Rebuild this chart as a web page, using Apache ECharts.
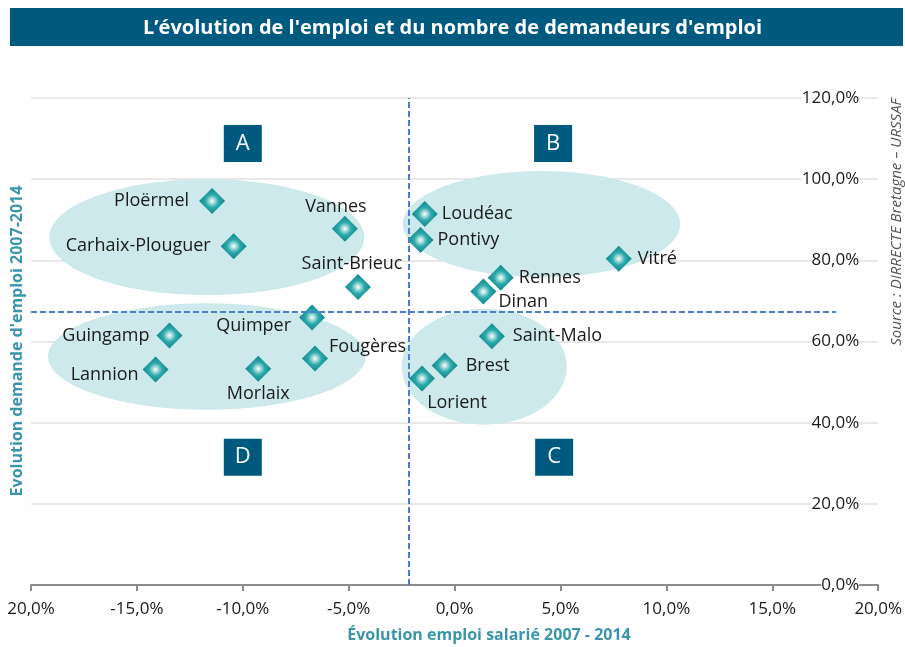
<!DOCTYPE html>
<html><head><meta charset="utf-8">
<script src="https://cdn.jsdelivr.net/npm/echarts@6/dist/echarts.min.js"></script>
<style>html,body{margin:0;padding:0;background:#fff}#c{width:905px;height:647px}</style>
</head><body><div id="c"></div>
<script>
// ---- data ----
const cities = ['Ploërmel','Vannes','Carhaix-Plouguer','Saint-Brieuc','Quimper','Guingamp','Fougères','Lannion','Morlaix','Loudéac','Pontivy','Rennes','Dinan','Vitré','Saint-Malo','Brest','Lorient'];
const emploi = [-11.45,-5.18,-10.43,-4.56,-6.73,-13.46,-6.59,-14.12,-9.27,-1.41,-1.61,2.18,1.36,7.75,1.76,-0.47,-1.54];
const demande = [94.6,87.8,83.5,73.4,65.9,61.5,55.8,53.1,53.3,91.4,85.0,75.7,72.3,80.4,61.3,54.1,50.9];
const xTicks = [-20,-15,-10,-5,0,5,10,15,20];
const yTicks = [0,20,40,60,80,100,120];
const medianEmploi = -2.15;
const medianDemande = 67.4;
// groups (ellipses): centre x, centre y, radius x, radius y (data units)
const groupCx = [-11.7, 4.1, -11.7, 1.4];
const groupCy = [85.7, 88.9, 56.3, 53.8];
const groupRx = [7.44, 6.55, 7.5, 3.9];
const groupRy = [14.3, 13.1, 13.1, 14.3];
// quadrant letters
const quadNames = ['A','B','C','D'];
const quadX = [-10.0, 4.65, 4.7, -10.0];
const quadY = [108.8, 108.8, 31.5, 31.5];

// ---- label layout (style only) ----
const labelLayout = {
 'Ploërmel':{position:'left',distance:10},
 'Vannes':{position:'top',distance:0,offset:[-9,0]},
 'Carhaix-Plouguer':{position:'left',distance:10},
 'Saint-Brieuc':{position:'top',distance:1,offset:[-6,0]},
 'Quimper':{position:'left',distance:8,offset:[0,8]},
 'Guingamp':{position:'left',distance:7},
 'Fougères':{position:'right',distance:1,offset:[0,-12]},
 'Lannion':{position:'left',distance:4,offset:[0,5]},
 'Morlaix':{position:'bottom',distance:3},
 'Loudéac':{position:'right',distance:4},
 'Pontivy':{position:'right',distance:4},
 'Rennes':{position:'right',distance:5},
 'Dinan':{position:'right',distance:2,offset:[0,10]},
 'Vitré':{position:'right',distance:6},
 'Saint-Malo':{position:'right',distance:8},
 'Brest':{position:'right',distance:8},
 'Lorient':{position:'bottom',distance:2,offset:[35,0]}
};

const fmt = v => Math.abs(v).toFixed(1).replace('.',',') ;
const chart = echarts.init(document.getElementById('c'));
const FONT = 'Open Sans';
const diamondFill = new echarts.graphic.RadialGradient(0.5,0.5,0.5,[
  {offset:0,color:'#ffffff'},{offset:0.5,color:'#2aa9ab'},{offset:1,color:'#128589'}]);

chart.setOption({
  animation:false,
  textStyle:{fontFamily:FONT},
  title:{text:'L’évolution de l\'emploi et du nombre de demandeurs d\'emploi',left:'center',top:13,
    textStyle:{color:'#fff',fontSize:20,fontWeight:'bold',fontFamily:FONT}},
  graphic:[
    {type:'rect',left:10,top:8,shape:{width:893,height:38},style:{fill:'#005a80'},z:-1},
    {type:'text',x:17,y:341,rotation:Math.PI/2,style:{text:'Evolution demande d\'emploi 2007-2014',fill:'#3a95ab',
      font:'bold 16px "Open Sans"',align:'center',verticalAlign:'middle'}},
    {type:'text',x:897,y:222,rotation:Math.PI/2,style:{text:'Source : DIRRECTE Bretagne – URSSAF',fill:'#555',
      font:'italic 15px "Open Sans"',align:'center',verticalAlign:'middle'}},
    {type:'text',x:489,y:627,style:{text:'Évolution emploi salarié 2007 - 2014',fill:'#3a95ab',
      font:'bold 16px "Open Sans"',align:'center',verticalAlign:'top'}}
  ],
  grid:{left:31,right:24,top:98,bottom:62},
  xAxis:{type:'value',min:-20,max:20,interval:5,
    axisLine:{lineStyle:{color:'#8c8c8c',width:2}},
    axisTick:{show:true,length:6,lineStyle:{color:'#8c8c8c',width:2}},
    splitLine:{show:false},
    axisLabel:{color:'#1a1a1a',fontSize:17,margin:16,formatter:v=>(v<0&&v>-20?'-':'')+fmt(v)+'%'}},
  yAxis:{type:'value',position:'right',min:0,max:120,interval:20,
    axisLine:{show:false},axisTick:{show:false},
    splitLine:{lineStyle:{color:'#e8e8e8',width:2}},
    axisLabel:{inside:true,margin:19,color:'#1a1a1a',fontSize:17,backgroundColor:'#fff',
      formatter:v=>fmt(v)+'%'}},
  series:[
    {type:'custom',z:1,silent:true,
     data:groupCx.map((c,i)=>[c,groupCy[i],groupRx[i],groupRy[i]]),
     renderItem:function(params,api){
       const c = api.coord([api.value(0),api.value(1)]);
       const s = api.size([api.value(2),api.value(3)]);
       return {type:'circle',x:c[0],y:c[1],scaleX:s[0],scaleY:s[1],shape:{cx:0,cy:0,r:1},
         style:{fill:'#cde9eb'}};
     }},
    {type:'scatter',z:2,data:[],silent:true,
     markLine:{symbol:'none',silent:true,label:{show:false},
       lineStyle:{color:'#4a7fcf',type:[6,3],width:2,opacity:1},
       data:[
         [{coord:[medianEmploi,0]},{coord:[medianEmploi,120]}],
         [{coord:[-20,medianDemande]},{coord:[18,medianDemande]}]
       ]}},
    {type:'scatter',z:3,symbol:'diamond',symbolSize:26,
     itemStyle:{color:diamondFill,opacity:1},
     label:{show:true,formatter:'{b}',color:'#1a1a1a',fontSize:18,fontFamily:FONT},
     data:cities.map((n,i)=>({name:n,value:[emploi[i],demande[i]],label:labelLayout[n]}))},
    {type:'scatter',z:4,symbol:'rect',symbolSize:[38,37],
     itemStyle:{color:'#005a80',opacity:1},
     label:{show:true,position:'inside',formatter:'{b}',color:'#fff',fontSize:22,fontFamily:FONT},
     data:quadNames.map((n,i)=>({name:n,value:[quadX[i],quadY[i]]}))}
  ]
});
</script></body></html>
